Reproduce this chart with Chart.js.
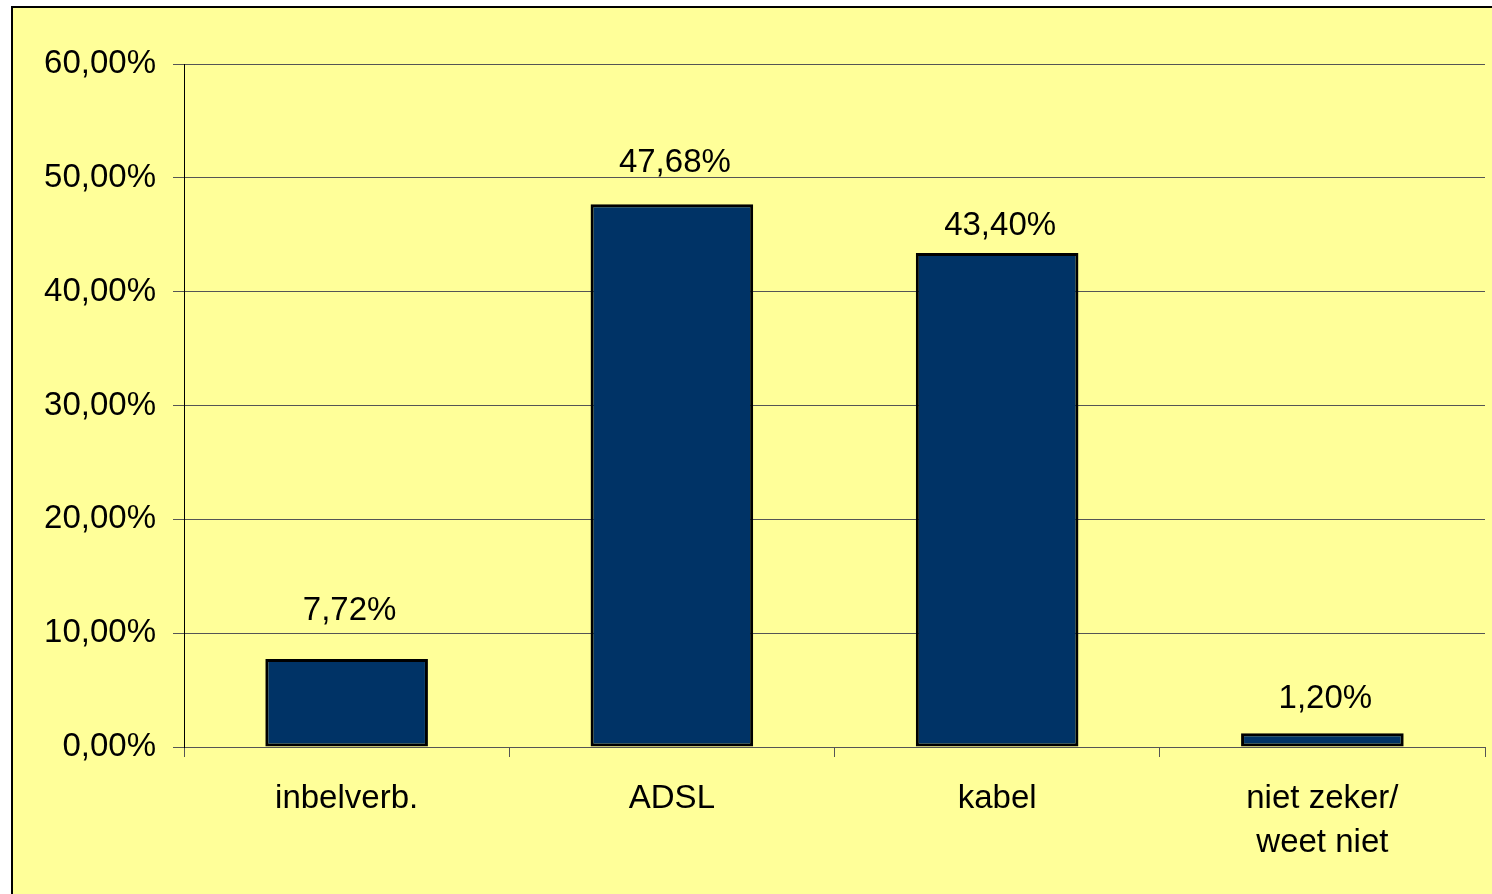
<!DOCTYPE html>
<html>
<head>
<meta charset="utf-8">
<script src="https://cdn.jsdelivr.net/npm/chart.js@4"></script>
<style>
html,body{margin:0;padding:0;background:#fff;}
#wrap{width:1492px;height:894px;position:relative;}
</style>
</head>
<body>
<div id="wrap"><canvas id="c" width="1492" height="894"></canvas></div>
<script>
const categories = ["inbelverb.", "ADSL", "kabel", ["niet zeker/", "weet niet"]];
const values = [7.72, 47.68, 43.40, 1.20];
const yTicks = [0, 10, 20, 30, 40, 50, 60];

const fmt = v => v.toFixed(2).replace('.', ',') + '%';
const FONT = 'Liberation Sans, Arial, sans-serif';
const FS = 33;

const framePlugin = {
  id: 'frame',
  beforeDraw(chart) {
    const ctx = chart.ctx;
    ctx.save();
    ctx.fillStyle = '#ffffff';
    ctx.fillRect(0, 0, chart.width, chart.height);
    ctx.fillStyle = '#FFFF99';
    ctx.fillRect(11, 6, chart.width - 11, chart.height - 6);
    ctx.strokeStyle = '#000';
    ctx.lineWidth = 2;
    ctx.beginPath();
    ctx.moveTo(12, chart.height);
    ctx.lineTo(12, 7);
    ctx.lineTo(chart.width, 7);
    ctx.stroke();
    ctx.restore();
  }
};

// label gap above each bar top (style), matching the original layout
const labelGaps = [39, 32, 18, 25];
const labelPlugin = {
  id: 'valueLabels',
  afterDatasetsDraw(chart) {
    const ctx = chart.ctx;
    const meta = chart.getDatasetMeta(0);
    ctx.save();
    ctx.fillStyle = '#000';
    ctx.font = FS + 'px ' + FONT;
    ctx.textAlign = 'center';
    ctx.textBaseline = 'alphabetic';
    meta.data.forEach((bar, i) => {
      ctx.fillText(fmt(values[i]), bar.x + 3, bar.y - labelGaps[i]);
    });
    ctx.restore();
  }
};

new Chart(document.getElementById('c'), {
  type: 'bar',
  data: {
    labels: categories,
    datasets: [{
      data: values,
      backgroundColor: '#003366',
      borderColor: '#000000',
      borderWidth: 3,
      borderSkipped: false,
      barPercentage: 0.5,
      categoryPercentage: 1.0
    }]
  },
  options: {
    responsive: false,
    animation: false,
    devicePixelRatio: 1,
    layout: { padding: { top: 64, right: 7, bottom: 0, left: 0 } },
    plugins: { legend: { display: false }, tooltip: { enabled: false } },
    scales: {
      x: {
        offset: true,
        afterFit(s) { s.height = 147; },
        grid: { display: true, drawOnChartArea: false, drawTicks: true, tickLength: 10, color: '#555', offset: true },
        border: { display: true, color: '#555', width: 1 },
        ticks: { color: '#000', font: { family: FONT, size: FS, lineHeight: 1.36 }, padding: 19, maxRotation: 0, autoSkip: false }
      },
      y: {
        min: 0, max: 60,
        afterFit(s) { s.width = 184; },
        afterBuildTicks(s) { s.ticks = yTicks.map(v => ({ value: v })); },
        grid: { color: '#555', lineWidth: 1, tickLength: 11, drawTicks: true },
        border: { display: true, color: '#000', width: 1 },
        ticks: { color: '#000', font: { family: FONT, size: FS }, padding: 17, callback: v => fmt(v) }
      }
    }
  },
  plugins: [framePlugin, labelPlugin]
});
</script>
</body>
</html>
